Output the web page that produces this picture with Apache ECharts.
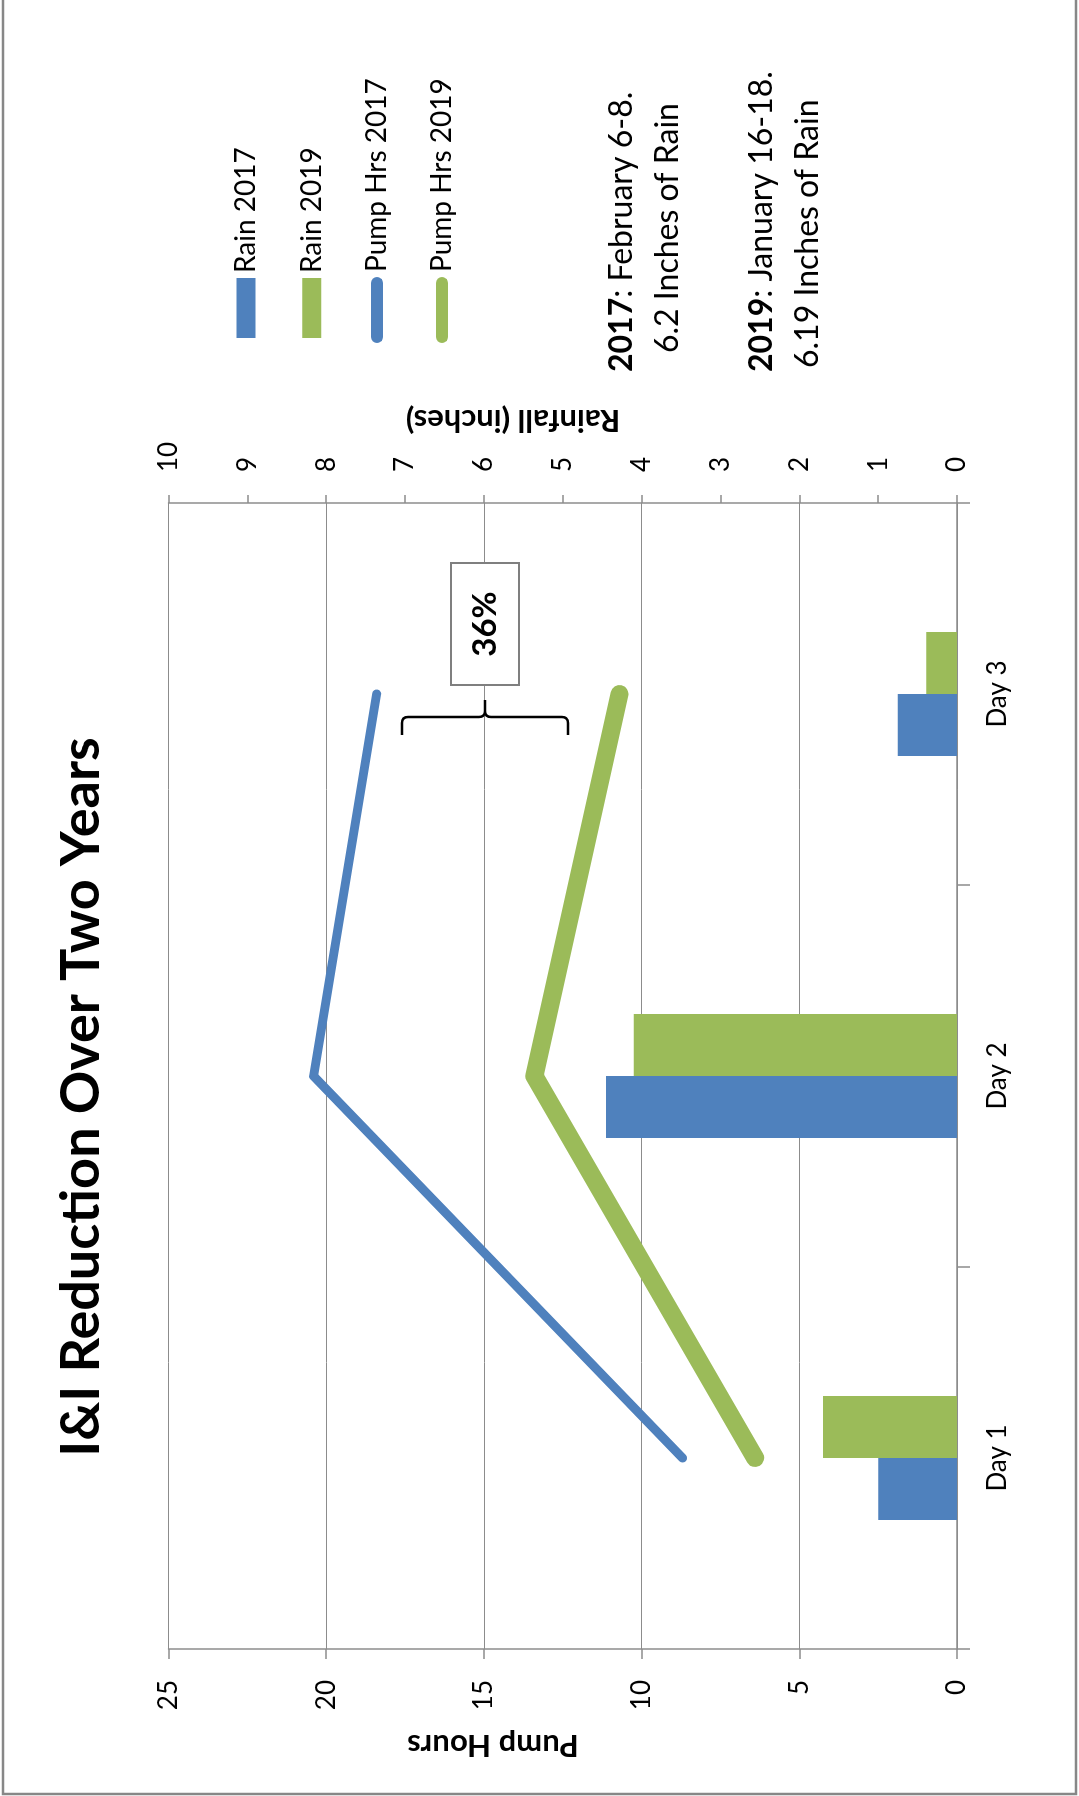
<!DOCTYPE html>
<html>
<head>
<meta charset="utf-8">
<title>I&amp;I Reduction Over Two Years</title>
<script src="https://cdn.jsdelivr.net/npm/echarts@6/dist/echarts.min.js"></script>
<style>
  html, body { margin: 0; padding: 0; background: #ffffff; overflow: hidden; }
  /* The chart is laid out landscape and turned a quarter turn to fit the portrait page */
  #chart {
    position: absolute; left: 0; top: 0;
    width: 1796px; height: 1079px;
    transform-origin: 0 0;
    transform: translateY(1796px) rotate(-90deg);
  }
</style>
</head>
<body>
<div id="chart"></div>
<script>
// ---- data ----
const categories = ['Day 1', 'Day 2', 'Day 3'];
const rain2017 = [1.0, 4.45, 0.75];      // inches per day
const rain2019 = [1.7, 4.1, 0.39];
const pumpHrs2017 = [8.7, 20.4, 18.4];   // pump hours per day
const pumpHrs2019 = [6.4, 13.4, 10.7];
const pumpTicks = [0, 5, 10, 15, 20, 25];
const rainTicks = [0, 1, 2, 3, 4, 5, 6, 7, 8, 9, 10];
const stormDates = { '2017': 'February 6-8.', '2019': 'January 16-18.' };

// ---- derived figures ----
const total = arr => parseFloat(arr.reduce((a, b) => a + b, 0).toFixed(2));
const reductionPct = Math.round((1 - total(pumpHrs2019) / total(pumpHrs2017)) * 100) + '%';

const BLUE = '#4F81BD';
const GREEN = '#9BBB59';
const GRID_GRAY = '#8c8c8c';
const FONT = 'Lato, "Open Sans", sans-serif';

// curly brace opening toward smaller x: spans y0..y1 at bar position x, hooks back by `depth`
echarts.graphic.registerShape('brace', echarts.graphic.extendShape({
  shape: { x: 0, y0: 0, y1: 0, depth: 18, nub: 17, r: 6 },
  buildPath: function (ctx, s) {
    const ym = (s.y0 + s.y1) / 2;
    ctx.moveTo(s.x - s.depth, s.y0);
    ctx.lineTo(s.x - s.r, s.y0);
    ctx.quadraticCurveTo(s.x, s.y0, s.x, s.y0 + s.r);
    ctx.lineTo(s.x, ym - s.r);
    ctx.quadraticCurveTo(s.x, ym, s.x + s.r, ym);
    ctx.lineTo(s.x + s.nub, ym);
    ctx.moveTo(s.x + s.r, ym);
    ctx.quadraticCurveTo(s.x, ym, s.x, ym + s.r);
    ctx.lineTo(s.x, s.y1 - s.r);
    ctx.quadraticCurveTo(s.x, s.y1, s.x - s.r, s.y1);
    ctx.lineTo(s.x - s.depth, s.y1);
  }
}));

const chart = echarts.init(document.getElementById('chart'), null, { renderer: 'canvas' });

function txt(x, y, text, size, extra) {
  return Object.assign({
    type: 'text', x: x, y: y, z: 100,
    style: Object.assign({
      text: text, fontSize: size, fontFamily: FONT, fill: '#000',
      align: 'left', verticalAlign: 'middle',
      textAlign: 'left', textVerticalAlign: 'middle'
    }, extra && extra.style)
  }, extra && extra.el);
}

function legendFor(name, top, left, icon, w, h) {
  return {
    data: [name], orient: 'vertical', left: left, top: top, padding: 0,
    icon: icon, itemWidth: w, itemHeight: h,
    itemStyle: { borderWidth: 0 },
    textStyle: { fontFamily: FONT, fontSize: 28, color: '#000' },
    selectedMode: false
  };
}

const lineIcon = 'path://M6,0 L60,0 A6,6 0 0 1 60,12 L6,12 A6,6 0 0 1 6,0 Z';
const noteRich = { b: { fontWeight: 'bold', fontSize: 32, fontFamily: FONT, fill: '#000' } };

const option = {
  backgroundColor: '#ffffff',
  animation: false,
  textStyle: { fontFamily: FONT },
  grid: { left: 147, top: 168.5, width: 1146, height: 788.5, containLabel: false },
  legend: [
    legendFor('Rain 2017', 232, 1458, 'rect', 60, 19),
    legendFor('Rain 2019', 297.7, 1458, 'rect', 60, 19),
    legendFor('Pump Hrs 2017', 363, 1453, lineIcon, 66, 12),
    legendFor('Pump Hrs 2019', 428, 1453, lineIcon, 66, 12)
  ],
  xAxis: {
    type: 'category', data: categories, boundaryGap: true,
    axisLine: { show: true, lineStyle: { color: GRID_GRAY, width: 1.5 } },
    axisTick: { show: true, alignWithLabel: false, length: 13, lineStyle: { color: GRID_GRAY, width: 1.5 } },
    axisLabel: { margin: 28, fontSize: 26, color: '#000', fontFamily: FONT },
    splitLine: { show: false }
  },
  yAxis: [
    {
      type: 'value', position: 'left',
      min: pumpTicks[0], max: pumpTicks[pumpTicks.length - 1], interval: pumpTicks[1] - pumpTicks[0],
      axisLine: { show: true, lineStyle: { color: GRID_GRAY, width: 1.5 } },
      axisTick: { show: true, length: 10, lineStyle: { color: GRID_GRAY, width: 1.5 } },
      axisLabel: { margin: 31, fontSize: 26, color: '#000', fontFamily: FONT },
      splitLine: { show: true, lineStyle: { color: GRID_GRAY, width: 1 } }
    },
    {
      type: 'value', position: 'right',
      min: rainTicks[0], max: rainTicks[rainTicks.length - 1], interval: rainTicks[1] - rainTicks[0],
      axisLine: { show: true, lineStyle: { color: GRID_GRAY, width: 1.5 } },
      axisTick: { show: true, length: 8, lineStyle: { color: GRID_GRAY, width: 1.5 } },
      axisLabel: { margin: 31, fontSize: 26, color: '#000', fontFamily: FONT },
      splitLine: { show: false }
    }
  ],
  series: [
    {
      name: 'Rain 2017', type: 'bar', yAxisIndex: 1, data: rain2017,
      barWidth: 62, barGap: '0%', itemStyle: { color: BLUE }, z: 2
    },
    {
      name: 'Rain 2019', type: 'bar', yAxisIndex: 1, data: rain2019,
      barWidth: 62, barGap: '0%', itemStyle: { color: GREEN }, z: 2
    },
    {
      name: 'Pump Hrs 2017', type: 'line', yAxisIndex: 0, data: pumpHrs2017,
      symbol: 'none', smooth: false, color: BLUE,
      lineStyle: { color: BLUE, width: 9, cap: 'round', join: 'round' }, z: 4
    },
    {
      name: 'Pump Hrs 2019', type: 'line', yAxisIndex: 0, data: pumpHrs2019,
      symbol: 'none', smooth: false, color: GREEN,
      lineStyle: { color: GREEN, width: 18, cap: 'round', join: 'round' }, z: 3
    }
  ],
  graphic: [
    // outer chart frame
    { type: 'rect', z: 0, shape: { x: 2, y: 3, width: 1820, height: 1073 },
      style: { fill: 'none', stroke: '#878787', lineWidth: 2.5 } },
    // title
    txt(699, 82, 'I&I Reduction Over Two Years', 54,
      { style: { fontWeight: 'bold', align: 'center', textAlign: 'center' } }),
    // axis titles
    txt(51, 493, 'Pump Hours', 31,
      { style: { fontWeight: 'bold', align: 'center', textAlign: 'center' }, el: { rotation: Math.PI / 2 } }),
    txt(1376, 513, 'Rainfall (inches)', 31,
      { style: { fontWeight: 'bold', align: 'center', textAlign: 'center' }, el: { rotation: Math.PI / 2 } }),
    // storm notes
    txt(1424, 622, '{b|2017}: ' + stormDates['2017'], 32, { style: { rich: noteRich } }),
    txt(1443, 668, total(rain2017) + ' Inches of Rain', 32),
    txt(1424, 762, '{b|2019}: ' + stormDates['2019'], 32, { style: { rich: noteRich } }),
    txt(1428, 808, total(rain2019) + ' Inches of Rain', 32),
    // reduction callout
    { type: 'rect', z: 90, shape: { x: 1111, y: 451, width: 122, height: 68 },
      style: { fill: '#ffffff', stroke: '#7f7f7f', lineWidth: 2 } },
    txt(1172, 485, reductionPct, 33,
      { style: { fontWeight: 'bold', align: 'center', textAlign: 'center' } }),
    { type: 'brace', z: 90,
      shape: { x: 1079, y0: 402, y1: 568, depth: 18, nub: 17, r: 6 },
      style: { fill: 'none', stroke: '#000', lineWidth: 2.5 } }
  ]
};

chart.setOption(option);
</script>
</body>
</html>
